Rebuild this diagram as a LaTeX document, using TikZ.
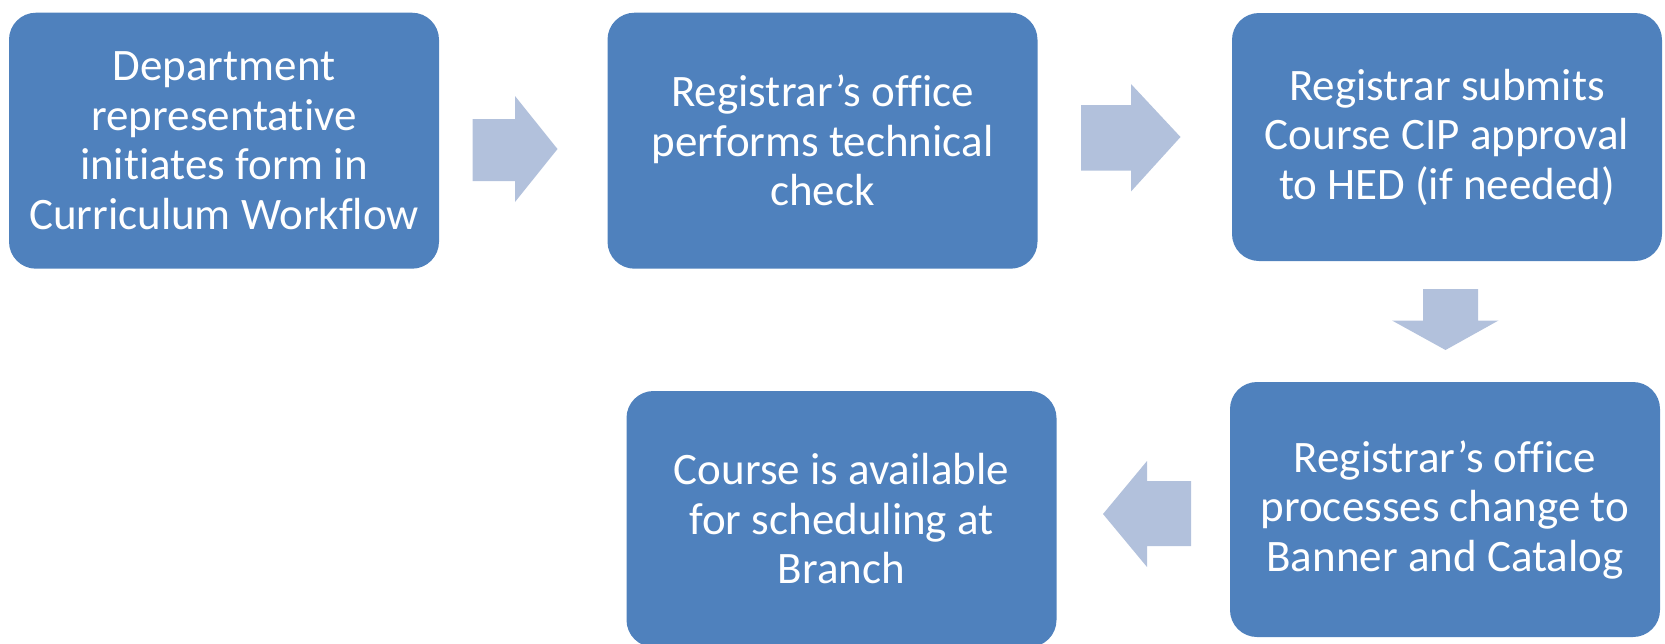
\documentclass[tikz,border=0pt]{standalone}
\usepackage{fontspec}
\setmainfont[Ligatures=NoCommon]{Carlito}
\definecolor{boxblue}{HTML}{4F81BD}
\definecolor{arrowblue}{HTML}{B2C1DC}
\begin{document}
\begin{tikzpicture}[x=1pt,y=-1pt,
  stepbox/.style={draw=none, fill=boxblue, rounded corners=27pt, text=white,
    align=center, font=\fontsize{45}{49.5}\selectfont, inner sep=0pt,
    minimum width=430pt, minimum height=256pt},
  blockarrow/.style={fill=arrowblue, draw=none}]
\useasboundingbox (0,0) rectangle (1665,643);
\clip (0,0) rectangle (1665,643);
\node[stepbox] (b1) at (224,140.7) {Department\\representative\\initiates form in\\Curriculum Workflow};
\node[stepbox] (b2) at (822.5,140.7) {Registrar’s office\\performs technical\\check};
\node[stepbox, minimum height=248pt] (b3) at (1447,137) {Registrar submits\\Course CIP approval\\to HED (if needed)};
\node[stepbox, minimum height=255pt] (b4) at (1445,509.5) {Registrar’s office\\processes change to\\Banner and Catalog};
\node[stepbox] (b5) at (841.5,519) {Course is available\\for scheduling at\\Branch};
% block arrows
\fill[blockarrow] (472.5,119)--(515,119)--(515,96)--(557.5,149)--(515,202)--(515,181)--(472.5,181)--cycle;
\fill[blockarrow] (1081,105)--(1131,105)--(1131,84)--(1180.5,137)--(1131,191.5)--(1131,170.5)--(1081,170.5)--cycle;
\fill[blockarrow] (1423,289)--(1478,289)--(1478,320.5)--(1498.5,320.5)--(1445.5,350)--(1392,320.5)--(1423,320.5)--cycle;
\fill[blockarrow] (1191,481)--(1147,481)--(1147,461)--(1103,514)--(1147,567)--(1147,546)--(1191,546)--cycle;
\end{tikzpicture}
\end{document}
